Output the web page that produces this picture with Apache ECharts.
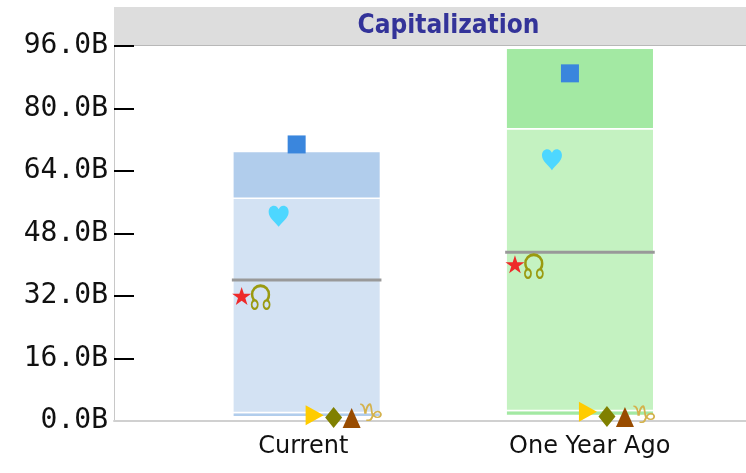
<!DOCTYPE html>
<html>
<head>
<meta charset="utf-8">
<script src="https://cdn.jsdelivr.net/npm/echarts@6/dist/echarts.min.js"></script>
<style>
  html, body { margin: 0; padding: 0; background: #fff; }
  #chart { width: 746px; height: 473px; }
</style>
</head>
<body>
<div id="chart"></div>
<script>
// categorias y escala
const categories = ['Current', 'One Year Ago'];
const yMin = 0, yMax = 96, yStep = 16;

// bandas de la caja (en miles de millones)
const bandLow = [1.1, 1.4];
const bandStripTop = [2.2, 2.7];
const bandMid = [57.0, 74.8];
const bandTop = [69.0, 95.4];
const medians = [36.1, 43.2];

// marcadores por empresa
const squareVals = [70.8, 89.0];
const heartVals = [52.4, 66.9];
const starVals = [32.0, 40.1];
const nodeVals = [31.7, 39.7];
const triRightVals = [1.5, 2.4];
const diamondVals = [0.9, 1.15];
const triUpVals = [0.8, 1.0];
const capVals = [1.8, 1.4];

const boxColors = [
  { strip: '#b1cdec', light: '#d3e2f3', dark: '#b1cdec' },
  { strip: '#a3e9a3', light: '#c4f2c1', dark: '#a3e9a3' }
];

const STAR = 'path://M10,0 L12.35,7.15 L19.9,7.15 L13.8,11.6 L16.1,18.8 L10,14.3 L3.9,18.8 L6.2,11.6 L0.1,7.15 L7.65,7.15 Z';
const HEART = 'path://M10,19 C7,15 0,11 0,5.5 C0,2 2.5,0 5.2,0 C7.5,0 9.2,1.5 10,3.2 C10.8,1.5 12.5,0 14.8,0 C17.5,0 20,2 20,5.5 C20,11 13,15 10,19 Z';

const markers = [
  { name: 'A', vals: squareVals, symbol: 'rect', size: [18, 18], color: '#3a86dd', offset: -10 },
  { name: 'B', vals: heartVals, symbol: HEART, size: [20, 21], color: '#4dd7ff', offset: -28 },
  { name: 'C', vals: starVals, symbol: STAR, size: [19, 18], color: '#ee2a2a', offset: -65 },
  { name: 'D', vals: triRightVals, symbol: 'triangle', size: [20, 18], color: '#ffcc00', offset: 8, rotate: -90 },
  { name: 'E', vals: diamondVals, symbol: 'diamond', size: [17, 21], color: '#808000', offset: 27 },
  { name: 'F', vals: triUpVals, symbol: 'triangle', size: [18, 20], color: '#994c00', offset: 45 }
];
// glifos de texto: sx/sy ajustan la proporcion, dy compensa la metrica de la fuente
const glyphs = [
  { name: 'G', vals: nodeVals, text: '\u260A', color: '#9a9a10', offset: -46, size: 32, sx: 0.8, sy: 1.1, dy: 4 },
  { name: 'H', vals: capVals, text: '\u2651', color: '#d4b24c', offset: 64, size: 34, sx: 0.9, sy: 0.72, dy: 1 }
];

const chart = echarts.init(document.getElementById('chart'));

const series = [{
  type: 'custom',
  xAxisIndex: 2,
  yAxisIndex: 2,
  data: categories.map((c, i) => [i, bandLow[i], bandStripTop[i], bandMid[i], bandTop[i], medians[i]]),
  encode: { x: 0, y: [1, 2, 3, 4, 5] },
  renderItem: function (params, api) {
    const i = api.value(0);
    const cx = api.coord([i, 0])[0];
    const w = api.size([1, 0])[0] * 0.54;
    const y = k => api.coord([i, api.value(k)])[1];
    const c = boxColors[params.dataIndex];
    const rect = (top, bottom, fill) => ({
      type: 'rect',
      shape: { x: cx - w / 2, y: top, width: w, height: bottom - top },
      style: { fill: fill, stroke: '#fff', lineWidth: 1.5 }
    });
    return {
      type: 'group',
      children: [
        rect(y(2), y(1), c.strip),
        rect(y(3), y(2), c.light),
        rect(y(4), y(3), c.dark),
        {
          type: 'line',
          shape: { x1: cx - w / 2 - 1, y1: y(5), x2: cx + w / 2 + 1, y2: y(5) },
          style: { stroke: '#999999', lineWidth: 3 }
        }
      ]
    };
  }
}];

markers.forEach(m => {
  series.push({
    name: m.name,
    type: 'scatter',
    xAxisIndex: 2,
    yAxisIndex: 2,
    symbol: m.symbol,
    symbolSize: m.size,
    symbolRotate: m.rotate || 0,
    symbolOffset: [m.offset, 0],
    itemStyle: { color: m.color, opacity: 1 },
    data: m.vals.map((v, i) => [i, v]),
    z: 5
  });
});

glyphs.forEach(g => {
  series.push({
    name: g.name,
    type: 'custom',
    xAxisIndex: 2,
    yAxisIndex: 2,
    data: g.vals.map((v, i) => [i, v]),
    renderItem: function (params, api) {
      const p = api.coord([api.value(0), api.value(1)]);
      return {
        type: 'text',
        x: p[0] + g.offset,
        y: p[1] + g.dy,
        scaleX: g.sx,
        scaleY: g.sy,
        style: {
          text: g.text,
          fill: g.color,
          font: g.size + 'px "DejaVu Sans"',
          align: 'center',
          verticalAlign: 'middle',
          textAlign: 'center',
          textVerticalAlign: 'middle'
        }
      };
    },
    z: 5
  });
});

const option = {
  animation: false,
  graphic: [
    { type: 'rect', left: 114, top: 7, shape: { width: 632, height: 38 }, style: { fill: '#dddddd' }, z: -1 },
    { type: 'line', shape: { x1: 114, y1: 45.5, x2: 746, y2: 45.5 }, style: { stroke: '#b8b8b8', lineWidth: 1 } },
    {
      type: 'text', x: 448.5, y: 26,
      style: {
        text: 'Capitalization', fill: '#333399',
        font: 'bold 26px "DejaVu Sans Condensed", "DejaVu Sans"',
        align: 'center', verticalAlign: 'middle', textAlign: 'center', textVerticalAlign: 'middle'
      }
    }
  ],
  grid: [
    { left: 114, right: 0, top: 46, bottom: 52 },
    { left: 160, right: 13, top: 46, bottom: 52 },
    { left: 170, right: 29.4, top: 46, bottom: 52 }
  ],
  xAxis: [
    {
      gridIndex: 0, type: 'value', min: 0, max: 1, z: 1,
      axisLine: { show: true, lineStyle: { color: '#d0d0d0', width: 2 } },
      axisTick: { show: false }, axisLabel: { show: false }, splitLine: { show: false }
    },
    {
      gridIndex: 1, type: 'category', data: categories,
      axisLine: { show: false }, axisTick: { show: false }, splitLine: { show: false },
      axisLabel: { fontFamily: 'DejaVu Sans', fontSize: 24, color: '#111', margin: 14 }
    },
    { gridIndex: 2, type: 'category', data: categories, show: false }
  ],
  yAxis: [
    {
      gridIndex: 0, type: 'value', min: yMin, max: yMax, interval: yStep,
      axisLine: { show: true, lineStyle: { color: '#c8c8c8', width: 1 } },
      axisTick: { show: true, inside: true, length: 20, lineStyle: { color: '#000', width: 2 } },
      splitLine: { show: false },
      axisLabel: {
        margin: 6, fontFamily: 'DejaVu Sans Mono', fontSize: 28, color: '#111',
        formatter: v => v.toFixed(1) + 'B'
      }
    },
    { gridIndex: 1, type: 'value', min: yMin, max: yMax, show: false },
    { gridIndex: 2, type: 'value', min: yMin, max: yMax, show: false }
  ],
  series: series
};

chart.setOption(option);
window.addEventListener('resize', () => chart.resize());
</script>
</body>
</html>
